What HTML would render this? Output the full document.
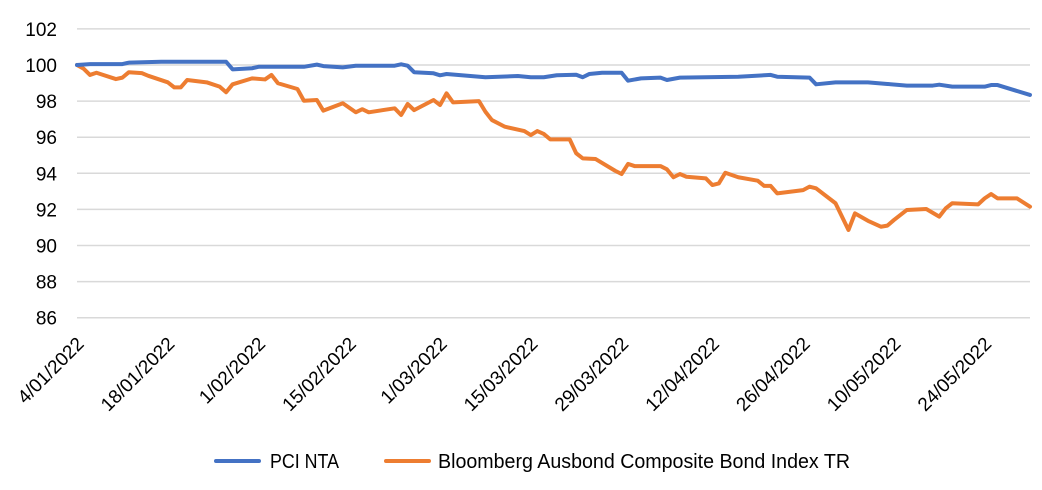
<!DOCTYPE html>
<html><head><meta charset="utf-8"><style>
body{margin:0;background:#fff;width:1042px;height:485px;overflow:hidden;font-family:"Liberation Sans",Arial,sans-serif}
svg text{font-family:"Liberation Sans",Arial,sans-serif;fill:#000}
</style></head><body>
<svg id="chart" width="1042" height="485" xmlns="http://www.w3.org/2000/svg">
<g id="grid"></g>
<g id="yaxis"></g>
<g id="xaxis"></g>
<g id="series"></g>
<g>
<g><line x1="216" y1="461" x2="259" y2="461" stroke="#4472C4" stroke-width="4" stroke-linecap="round"/><text x="270" y="468" font-size="20" textLength="69" lengthAdjust="spacingAndGlyphs">PCI NTA</text></g>
<g><line x1="386" y1="461" x2="429" y2="461" stroke="#ED7D31" stroke-width="4" stroke-linecap="round"/><text x="438" y="468" font-size="20" textLength="412" lengthAdjust="spacingAndGlyphs">Bloomberg Ausbond Composite Bond Index TR</text></g>
</g>
</svg>
<script>
const yTicks=[86,88,90,92,94,96,98,100,102];
const xTickLabels=["4/01/2022","18/01/2022","1/02/2022","15/02/2022","1/03/2022","15/03/2022","29/03/2022","12/04/2022","26/04/2022","10/05/2022","24/05/2022"];
const xTickDays=[0,14,28,42,56,70,84,98,112,126,140];
const pciDays=[0,2,7,8,13,23,24,27,28,35,37,38,41,43,49,50,51,52,55,56,57,63,68,70,72,74,77,78,79,81,84,85,87,90,91,93,102,107,108,113,114,117,122,125,128,132,133,135,140,141,142,147];
const pciVals=[100,100.05,100.05,100.13,100.18,100.18,99.76,99.82,99.9,99.9,100.02,99.94,99.87,99.96,99.96,100.04,99.96,99.6,99.54,99.43,99.5,99.32,99.39,99.32,99.32,99.43,99.46,99.32,99.5,99.57,99.57,99.13,99.26,99.3,99.17,99.3,99.35,99.45,99.35,99.3,98.93,99.04,99.04,98.95,98.86,98.86,98.91,98.8,98.8,98.89,98.89,98.34];
const bondDays=[0,1,2,3,6,7,8,10,11,14,15,16,17,20,22,23,24,27,29,30,31,34,35,37,38,41,43,44,45,49,50,51,52,55,56,57,58,62,63,64,66,69,70,71,72,73,76,77,78,80,83,84,85,86,90,91,92,93,94,97,98,99,100,102,105,106,107,108,112,113,114,117,119,120,122,124,125,126,128,131,133,134,135,139,140,141,142,145,147];
const bondVals=[100,99.8,99.45,99.57,99.22,99.3,99.6,99.55,99.4,99.04,98.76,98.76,99.17,99.04,98.8,98.49,98.93,99.26,99.2,99.45,98.99,98.67,98.02,98.06,97.47,97.88,97.38,97.55,97.38,97.6,97.23,97.84,97.5,98.06,97.78,98.43,97.93,98.0,97.41,96.95,96.58,96.34,96.12,96.34,96.18,95.88,95.88,95.11,94.83,94.79,94.14,93.96,94.52,94.4,94.4,94.22,93.78,93.96,93.81,93.72,93.35,93.44,94.03,93.78,93.59,93.3,93.3,92.89,93.07,93.26,93.17,92.34,90.86,91.78,91.37,91.04,91.1,91.41,91.97,92.02,91.6,92.06,92.34,92.28,92.61,92.85,92.61,92.61,92.15];
const NS="http://www.w3.org/2000/svg";
const X0=77,X1=1030,DMAX=147;
const xs=d=>X0+d*(X1-X0)/DMAX;
const ys=v=>65+(100-v)*18.05;
function mk(tag,attrs,parent){const e=document.createElementNS(NS,tag);for(const k in attrs)e.setAttribute(k,attrs[k]);parent.appendChild(e);return e;}
const grid=document.getElementById('grid'),ya=document.getElementById('yaxis'),xa=document.getElementById('xaxis'),ser=document.getElementById('series');
yTicks.forEach(v=>{
 const l=mk('line',{x1:X0,x2:X1,y1:ys(v),y2:ys(v),stroke:'#d9d9d9','stroke-width':1.5},grid);
 
 
 const t=mk('text',{x:57,y:ys(v)+7,'text-anchor':'end','font-size':19},ya);
 t.textContent=v;
 
 
});
xTickLabels.forEach((s,i)=>{
 const x=xs(xTickDays[i])+8,y=345;
 const t=mk('text',{x:x,y:y,'text-anchor':'end','font-size':19,transform:`rotate(-45 ${x} ${y})`},xa);
 t.textContent=s;
 
 
});
function draw(days,vals,color,name){
 const p=mk('polyline',{points:days.map((d,i)=>xs(d)+','+ys(vals[i])).join(' '),fill:'none',stroke:color,'stroke-width':4,'stroke-linejoin':'round','stroke-linecap':'round'},ser);
 
 
}
draw(bondDays,bondVals,'#ED7D31','bloomberg-line');
draw(pciDays,pciVals,'#4472C4','pci-nta-line');
</script>
</body></html>
